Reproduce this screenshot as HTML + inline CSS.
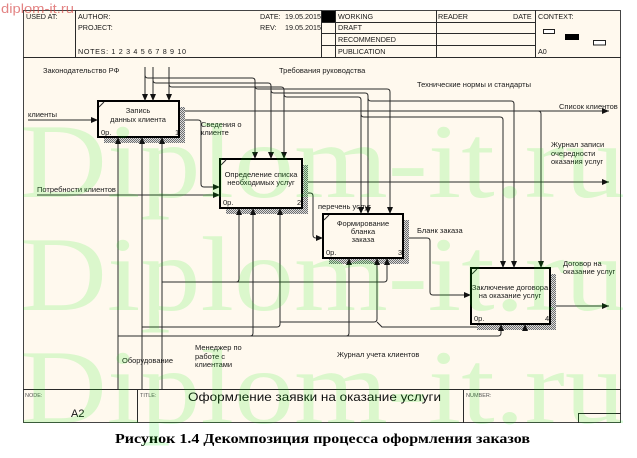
<!DOCTYPE html>
<html><head><meta charset="utf-8">
<style>
html,body{margin:0;padding:0;background:#fff;width:637px;height:458px;overflow:hidden}
svg{display:block}
.t{font-family:"Liberation Sans","DejaVu Sans",sans-serif;font-size:7.5px;fill:#1a1a1a}
.h{font-family:"Liberation Sans","DejaVu Sans",sans-serif;font-size:7.2px;fill:#1a1a1a}
.s{font-family:"Liberation Sans","DejaVu Sans",sans-serif;font-size:5.5px;fill:#555}
.ln{fill:none;stroke:#2a2a2a;stroke-width:1}
.bx{fill:#fff9ee;stroke:#000;stroke-width:2}
</style></head><body>
<svg width="637" height="458" viewBox="0 0 637 458" xmlns="http://www.w3.org/2000/svg">
<defs>
<pattern id="hp" width="2" height="2" patternUnits="userSpaceOnUse">
<rect width="2" height="2" fill="#dcdcdc"/>
<rect x="0" y="0" width="1" height="1" fill="#6e6e6e"/>
<rect x="1" y="1" width="1" height="1" fill="#6e6e6e"/>
</pattern>
</defs>

<!-- frame -->
<rect x="23.5" y="10.5" width="597" height="412" fill="#fff9ee" stroke="#444" stroke-width="1"/>
<g class="ln" stroke="#444">
<path d="M23,57.5H621"/>
<path d="M75.5,10V57"/>
<path d="M321.5,10V57"/>
<path d="M335.5,10V57"/>
<path d="M436.5,10V57"/>
<path d="M535.5,10V57"/>
<path d="M321,22.5H535"/>
<path d="M321,33.5H535"/>
<path d="M321,45.5H535"/>
<path d="M23,389.5H621"/>
<path d="M137.5,389V423"/>
<path d="M463.5,389V423"/>
<path d="M578.5,413.5H621M578.5,413V423"/>
</g>
<rect x="322" y="11" width="13" height="11" fill="#000"/>
<rect x="543.5" y="29.5" width="11" height="4" fill="#fff" stroke="#222" stroke-width="1"/>
<rect x="565" y="34" width="14" height="6" fill="#000"/>
<rect x="593.5" y="40.5" width="12" height="4.5" fill="#fff" stroke="#222" stroke-width="1"/>

<!-- header text -->
<text class="h" x="26" y="19">USED AT:</text>
<text class="h" x="78" y="19">AUTHOR:</text>
<text class="h" x="78" y="30">PROJECT:</text>
<text class="h" x="78" y="54" textLength="108" lengthAdjust="spacing">NOTES:  1  2  3  4  5  6  7  8  9  10</text>
<text class="h" x="260" y="19">DATE:</text>
<text class="h" x="285" y="19">19.05.2015</text>
<text class="h" x="260" y="30">REV:</text>
<text class="h" x="285" y="30">19.05.2015</text>
<text class="h" x="338" y="19">WORKING</text>
<text class="h" x="338" y="30">DRAFT</text>
<text class="h" x="338" y="42">RECOMMENDED</text>
<text class="h" x="338" y="54">PUBLICATION</text>
<text class="h" x="438" y="19">READER</text>
<text class="h" x="513" y="19">DATE</text>
<text class="h" x="538" y="19">CONTEXT:</text>
<text class="h" x="538" y="54">A0</text>

<!-- connectors -->
<g class="ln">
<!-- controls -->
<path d="M145,67V101"/>
<path d="M153,67V101"/>
<path d="M169,67V101"/>
<path d="M145,75Q145,78 148,78H252Q255,78 255,81V159"/>
<path d="M153,80Q153,83 156,83H268Q271,83 271,86V159"/>
<path d="M169,84Q169,87 172,87H281Q284,87 284,90V159"/>
<path d="M255,86Q255,89 258,89H387Q390,89 390,92V214"/>
<path d="M271,90Q271,93 274,93H365Q368,93 368,96V214"/>
<path d="M284,94Q284,97 287,97H358Q361,97 361,100V214"/>
<path d="M368,98Q368,101 371,101H511Q514,101 514,104V268"/>
<path d="M361,114Q361,117 364,117H500Q503,117 503,120V268"/>
<path d="M179,111H609"/>
<path d="M538,111Q541,111 541,114V268"/>
<!-- inputs / outputs -->
<path d="M28,120H98"/>
<path d="M179,120H198Q201,120 201,123V184Q201,187 204,187H220"/>
<path d="M37,195H220"/>
<path d="M302,182H609"/>
<path d="M302,193H310Q313,193 313,196V235Q313,238 316,238H323"/>
<path d="M403,238H427Q430,238 430,241V292Q430,295 433,295H471"/>
<path d="M550,306H609"/>
<!-- mechanisms -->
<path d="M118,389V137"/>
<path d="M142,389V137"/>
<path d="M162,389V137"/>
<path d="M118,336H498Q501,336 501,333V324"/>
<path d="M250,336Q253,336 253,333V208"/>
<path d="M346,336Q349,336 349,333V258"/>
<path d="M142,327H277Q280,327 280,324V208"/>
<path d="M280,322H374Q377,322 377,319V258"/>
<path d="M377,322L382,327H522Q525,327 525,324"/>
<path d="M162,282H384Q387,282 387,279V258"/>
<path d="M236,282Q239,282 239,279V208"/>
</g>

<!-- shadows -->
<g fill="url(#hp)">
<rect x="180" y="107" width="5" height="36"/><rect x="104" y="138" width="81" height="5"/>
<rect x="303" y="165" width="5" height="49"/><rect x="226" y="209" width="82" height="5"/>
<rect x="404" y="220" width="5" height="44"/><rect x="329" y="259" width="80" height="5"/>
<rect x="551" y="274" width="5" height="56"/><rect x="477" y="325" width="79" height="5"/>
</g>

<!-- boxes -->
<rect class="bx" x="98" y="101" width="81" height="36"/>
<rect class="bx" x="220" y="159" width="82" height="49"/>
<rect class="bx" x="323" y="214" width="80" height="44"/>
<rect class="bx" x="471" y="268" width="79" height="56"/>
<g class="ln" stroke="#000">
<path d="M99,107L104,102"/><path d="M221,165L226,160"/><path d="M324,220L329,215"/><path d="M472,274L477,269"/>
</g>

<!-- arrowheads -->
<g fill="#111">
<polygon points="142,94 148,94 145,101"/>
<polygon points="150,94 156,94 153,101"/>
<polygon points="166,94 172,94 169,101"/>
<polygon points="252,152 258,152 255,159"/>
<polygon points="268,152 274,152 271,159"/>
<polygon points="281,152 287,152 284,159"/>
<polygon points="358,207 364,207 361,214"/>
<polygon points="365,207 371,207 368,214"/>
<polygon points="387,207 393,207 390,214"/>
<polygon points="500,261 506,261 503,268"/>
<polygon points="511,261 517,261 514,268"/>
<polygon points="538,261 544,261 541,268"/>
<polygon points="115,144 121,144 118,137"/>
<polygon points="139,144 145,144 142,137"/>
<polygon points="159,144 165,144 162,137"/>
<polygon points="236,215 242,215 239,208"/>
<polygon points="250,215 256,215 253,208"/>
<polygon points="277,215 283,215 280,208"/>
<polygon points="346,265 352,265 349,258"/>
<polygon points="374,265 380,265 377,258"/>
<polygon points="384,265 390,265 387,258"/>
<polygon points="498,331 504,331 501,324"/>
<polygon points="522,331 528,331 525,324"/>
<polygon points="91,117 91,123 98,120"/>
<polygon points="213,184 213,190 220,187"/>
<polygon points="213,192 213,198 220,195"/>
<polygon points="316,235 316,241 323,238"/>
<polygon points="464,292 464,298 471,295"/>
<polygon points="602,108 602,114 609,111"/>
<polygon points="602,179 602,185 609,182"/>
<polygon points="602,303 602,309 609,306"/>
</g>

<!-- box text -->
<g class="t" text-anchor="middle">
<text x="138" y="113">Запись</text>
<text x="138" y="122">данных клиента</text>
<text x="261" y="177">Определение  списка</text>
<text x="261" y="185">необходимых услуг</text>
<text x="363" y="226">Формирование</text>
<text x="363" y="234">бланка</text>
<text x="363" y="242">заказа</text>
<text x="510" y="290">Заключение договора</text>
<text x="510" y="298">на оказание услуг</text>
</g>
<g class="t">
<text x="101" y="135">0р.</text><text x="175" y="135">1</text>
<text x="223" y="205">0р.</text><text x="297" y="205">2</text>
<text x="326" y="255">0р.</text><text x="398" y="255">3</text>
<text x="474" y="321">0р.</text><text x="545" y="321">4</text>
</g>

<!-- labels -->
<g class="t">
<text x="43" y="73">Законодательство РФ</text>
<text x="279" y="73">Требования руководства</text>
<text x="417" y="87">Технические нормы и стандарты</text>
<text x="28" y="117">клиенты</text>
<text x="201" y="127">Сведения о</text>
<text x="201" y="135">клиенте</text>
<text x="559" y="109">Список клиентов</text>
<text x="551" y="147">Журнал записи</text>
<text x="551" y="156">очередности</text>
<text x="551" y="164">оказания услуг</text>
<text x="37" y="192">Потребности  клиентов</text>
<text x="318" y="209">перечень услуг</text>
<text x="417" y="233">Бланк заказа</text>
<text x="563" y="266">Договор на</text>
<text x="563" y="274">оказание услуг</text>
<text x="122" y="363">Оборудование</text>
<text x="195" y="350">Менеджер по</text>
<text x="195" y="359">работе с</text>
<text x="195" y="367">клиентами</text>
<text x="337" y="357">Журнал учета клиентов</text>
</g>

<!-- footer text -->
<text class="s" x="25" y="397">NODE:</text>
<text class="s" x="140" y="397">TITLE:</text>
<text class="s" x="466" y="397">NUMBER:</text>
<text x="71" y="417" style="font-family:'Liberation Sans',sans-serif;font-size:11px;fill:#111">A2</text>
<text x="188" y="401" textLength="253" lengthAdjust="spacingAndGlyphs" style="font-family:'Liberation Sans',sans-serif;font-size:12px;fill:#111">Оформление  заявки на оказание  услуги</text>

<!-- caption -->
<text x="115" y="443" textLength="415" lengthAdjust="spacingAndGlyphs" style="font-family:'Liberation Serif',serif;font-size:13.5px;font-weight:bold;fill:#000">Рисунок 1.4 Декомпозиция процесса оформления заказов</text>

<!-- watermarks -->
<text x="1" y="13" textLength="73" lengthAdjust="spacingAndGlyphs" style="font-family:'Liberation Sans',sans-serif;font-size:13px;fill:#d03030;fill-opacity:0.6">diplom-it.ru</text>
<g style="font-family:'Liberation Serif',serif;font-size:106px;fill:#00ee00;fill-opacity:0.14">
<text x="20" y="197" textLength="605" lengthAdjust="spacingAndGlyphs">Diplom-it.ru</text>
<text x="20" y="310" textLength="605" lengthAdjust="spacingAndGlyphs">Diplom-it.ru</text>
<text x="20" y="423" textLength="605" lengthAdjust="spacingAndGlyphs">Diplom-it.ru</text>
</g>
</svg>
</body></html>
